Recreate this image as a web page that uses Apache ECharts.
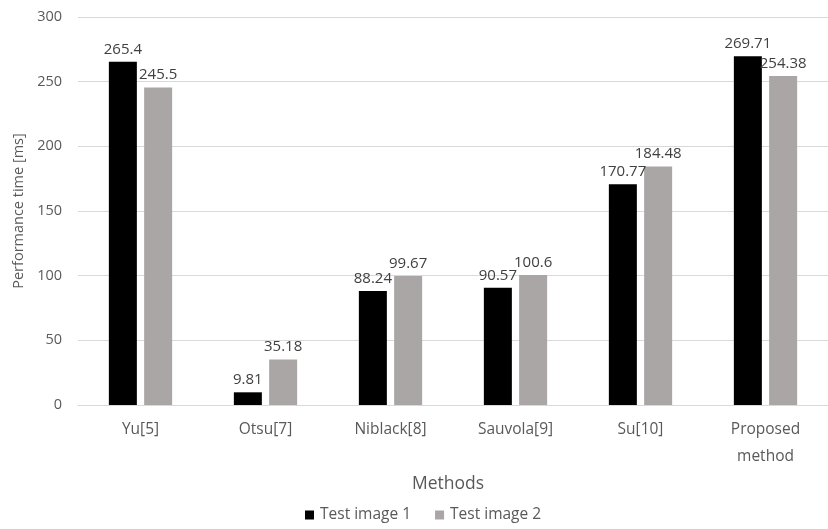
<!DOCTYPE html>
<html>
<head>
<meta charset="utf-8">
<script src="https://cdn.jsdelivr.net/npm/echarts@6/dist/echarts.min.js"></script>
<style>
  html, body { margin: 0; padding: 0; background: #ffffff; }
  #chart { width: 828px; height: 529px; }
</style>
</head>
<body>
<div id="chart"></div>
<script>
// Processing time of each binarization method on two test images
const methods = ['Yu[5]', 'Otsu[7]', 'Niblack[8]', 'Sauvola[9]', 'Su[10]', 'Proposed\nmethod'];
const testImage1 = [265.4, 9.81, 88.24, 90.57, 170.77, 269.71];
const testImage2 = [245.5, 35.18, 99.67, 100.6, 184.48, 254.38];
const seriesNames = ['Test image 1', 'Test image 2'];

const FONT = '"Open Sans", "Noto Sans", sans-serif';
const chart = echarts.init(document.getElementById('chart'));

const labelStyle = {
  show: true,
  position: 'top',
  distance: 5,
  color: '#404040',
  fontSize: 15,
  fontFamily: FONT
};

chart.setOption({
  backgroundColor: '#ffffff',
  animation: false,
  grid: { left: 78, right: -6, top: 17, bottom: 124 },
  legend: {
    bottom: 1,
    left: 300,
    itemWidth: 9,
    itemHeight: 9,
    itemGap: 24,
    icon: 'rect',
    textStyle: { color: '#595959', fontSize: 15.5, fontFamily: FONT, padding: [0, 0, 0, 1] },
    data: seriesNames
  },
  xAxis: {
    type: 'category',
    data: methods,
    name: 'Methods',
    nameLocation: 'middle',
    nameGap: 60,
    nameTextStyle: { color: '#595959', fontSize: 17.5, fontFamily: FONT, padding: [0, 10, 0, 0] },
    axisLine: { show: true, lineStyle: { color: '#d9d9d9' } },
    axisTick: { show: false },
    axisLabel: { color: '#595959', fontSize: 15.5, fontFamily: FONT, margin: 11, lineHeight: 27 }
  },
  yAxis: {
    type: 'value',
    min: 0,
    max: 300,
    interval: 50,
    name: 'Performance time [ms]',
    nameLocation: 'middle',
    nameGap: 52,
    nameTextStyle: { color: '#595959', fontSize: 14.5, fontFamily: FONT },
    axisLine: { show: false },
    axisTick: { show: false },
    axisLabel: { color: '#595959', fontSize: 14.5, fontFamily: FONT, margin: 16 },
    splitLine: { lineStyle: { color: '#d9d9d9', width: 1 } }
  },
  series: [
    {
      name: seriesNames[0],
      type: 'bar',
      data: testImage1,
      barWidth: 28,
      barGap: '26%',
      itemStyle: { color: '#000000' },
      label: labelStyle
    },
    {
      name: seriesNames[1],
      type: 'bar',
      data: testImage2,
      barWidth: 28,
      itemStyle: { color: '#aaa6a6' },
      label: labelStyle
    }
  ]
});
</script>
</body>
</html>
